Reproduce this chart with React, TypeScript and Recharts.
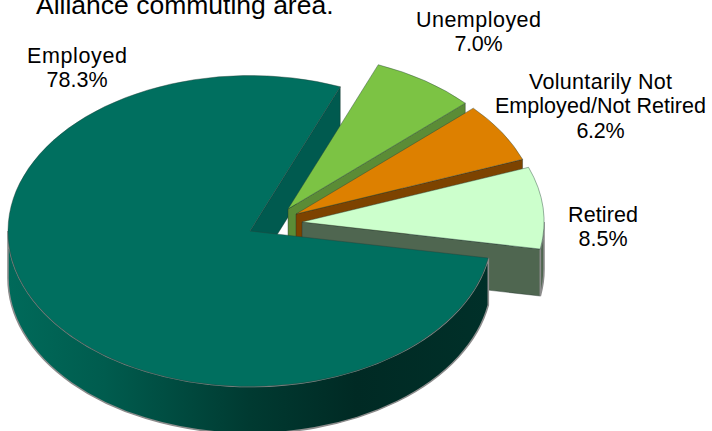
import React from "react";
import { PieChart, Pie } from "recharts";

// Employment status shares, listed back-to-front so nearer slices paint last.
const statuses = ["Unemployed", "Voluntarily Not Employed/Not Retired", "Retired", "Employed"];
const shares = [7.0, 6.2, 8.5, 78.3];
const rows = statuses.map((name, i) => ({ name, value: shares[i] }));

const TILT = 155.5 / 242; // vertical squash of the disc
const DEPTH = 47; // height of the disc side wall
const FONT = "'Liberation Sans', Arial, sans-serif";

const topFill: Record<string, string> = {
  Employed: "#006f5f",
  Retired: "#ccffcc",
  "Voluntarily Not Employed/Not Retired": "#dd8000",
  Unemployed: "#7cc344",
};
const faceFill: Record<string, string> = {
  Employed: "#005a4f",
  Retired: "#4f6650",
  "Voluntarily Not Employed/Not Retired": "#7d4300",
  Unemployed: "#5b8c36",
};
// Pull-out of each slice from the disc centre.
const explode: Record<string, [number, number]> = {
  Employed: [0, 0],
  Retired: [52, -9],
  "Voluntarily Not Employed/Not Retired": [46, -17],
  Unemployed: [38, -22],
};
// Caption lines: centre x, baselines and fitted line widths.
const captions: Record<string, { x: number; ys: number[]; widths: number[]; lines: string[] }> = {
  Employed: { x: 77, ys: [63, 87], widths: [100, 61], lines: ["Employed"] },
  Unemployed: { x: 478.5, ys: [27, 51], widths: [125, 48], lines: ["Unemployed"] },
  "Voluntarily Not Employed/Not Retired": {
    x: 600.5,
    ys: [89, 113, 138],
    widths: [143, 211, 48],
    lines: ["Voluntarily Not", "Employed/Not Retired"],
  },
  Retired: { x: 603, ys: [222, 246], widths: [70, 49], lines: ["Retired"] },
};

const RAD = Math.PI / 180;

function geometry(props: any) {
  const name = props.name ?? props.payload?.name;
  const [ox, oy] = explode[name];
  const cx = props.cx + ox;
  const cy = props.cy + oy;
  const rx = props.outerRadius;
  const ry = rx * TILT;
  const lo = Math.min(props.startAngle, props.endAngle);
  const hi = Math.max(props.startAngle, props.endAngle);
  const at = (deg: number, drop = 0): [number, number] => [
    cx + rx * Math.cos(deg * RAD),
    cy - ry * Math.sin(deg * RAD) + drop,
  ];
  return { name, cx, cy, rx, ry, lo, hi, at };
}

// Side face along the slice's lower cut edge.
function cutFace(g: ReturnType<typeof geometry>) {
  const p = g.at(g.lo);
  const q = g.at(g.lo, DEPTH);
  return (
    <path
      d={`M${g.cx},${g.cy}L${p[0]},${p[1]}L${q[0]},${q[1]}L${g.cx},${g.cy + DEPTH}Z`}
      fill={faceFill[g.name]}
      stroke="#1a2a24"
      strokeOpacity={0.55}
      strokeWidth={0.7}
    />
  );
}

function EmployedBackFace(props: any) {
  const g = geometry(props);
  if (g.name !== "Employed") return <g />;
  return cutFace(g);
}

function Slice(props: any) {
  const g = geometry(props);
  const a = g.at(g.hi);
  const b = g.at(g.lo);
  const large = g.hi - g.lo > 180 ? 1 : 0;
  const from = Math.max(g.lo, -180);
  const to = Math.min(g.hi, 0);
  const hasWall = to > from;
  const s = g.at(from);
  const e = g.at(to);
  const s2 = g.at(from, DEPTH);
  const e2 = g.at(to, DEPTH);
  const wall = `M${s[0]},${s[1]}A${g.rx},${g.ry} 0 0 0 ${e[0]},${e[1]}L${e2[0]},${e2[1]}A${g.rx},${g.ry} 0 0 1 ${s2[0]},${s2[1]}Z`;
  const isMain = g.name === "Employed";
  return (
    <g>
      {isMain ? (
        <defs>
          <linearGradient id="mainWall" gradientUnits="userSpaceOnUse" x1={g.cx - g.rx} x2={g.cx + g.rx} y1={0} y2={0}>
            <stop offset="0" stopColor="#006a5a" />
            <stop offset="0.2" stopColor="#005c4e" />
            <stop offset="0.5" stopColor="#003a31" />
            <stop offset="0.72" stopColor="#002a24" />
            <stop offset="1" stopColor="#003029" />
          </linearGradient>
        </defs>
      ) : (
        cutFace(g)
      )}
      {hasWall && (
        <path
          d={wall}
          fill={isMain ? "url(#mainWall)" : faceFill[g.name]}
          stroke="#8c8c8c"
          strokeWidth={1.6}
        />
      )}
      <path
        d={`M${g.cx},${g.cy}L${a[0]},${a[1]}A${g.rx},${g.ry} 0 ${large} 1 ${b[0]},${b[1]}Z`}
        fill={topFill[g.name]}
        stroke="#26403a"
        strokeOpacity={0.6}
        strokeWidth={0.7}
      />
    </g>
  );
}

function Caption(props: any) {
  const c = captions[props.name];
  const texts = [...c.lines, `${props.value.toFixed(1)}%`];
  return (
    <g>
      {texts.map((t, i) => (
        <text
          key={t}
          x={c.x}
          y={c.ys[i]}
          textAnchor="middle"
          fontFamily={FONT}
          fontSize={21.5}
          fill="#000"
          textLength={c.widths[i]}
        >
          {t}
        </text>
      ))}
    </g>
  );
}

export default function App() {
  const pie = {
    data: rows,
    dataKey: "value",
    nameKey: "name",
    cx: 250,
    cy: 231,
    innerRadius: 0,
    outerRadius: 242,
    startAngle: 68.1,
    endAngle: -291.9,
    stroke: "none",
    isAnimationActive: false,
  };
  return (
    <div style={{ position: "absolute", left: 0, top: 0 }}>
      <PieChart width={712} height={431} margin={{ top: 0, right: 0, bottom: 0, left: 0 }}>
        <text x={36} y={14} fontFamily={FONT} fontSize={26.5} fill="#000">
          Alliance commuting area.
        </text>
        <Pie {...pie} shape={EmployedBackFace} />
        <Pie {...pie} shape={Slice} label={Caption} labelLine={false} />
      </PieChart>
    </div>
  );
}
